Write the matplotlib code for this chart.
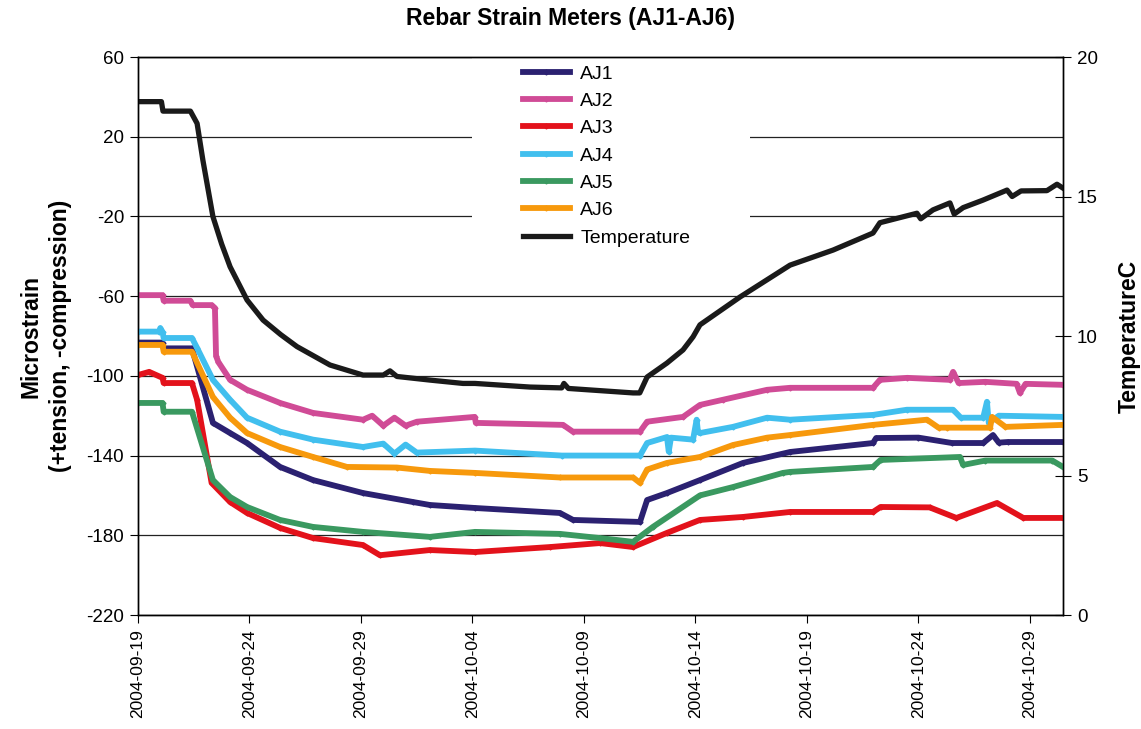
import numpy as np
import pandas as pd
import matplotlib
matplotlib.use("Agg")
import matplotlib.pyplot as plt
import matplotlib.dates as mdates
from matplotlib.patches import Rectangle

plt.rcParams["font.family"] = ["Liberation Sans", "DejaVu Sans"]
plt.rcParams["axes.unicode_minus"] = False

# days after 2004-09-19 00:00
start = pd.Timestamp("2004-09-19")

t_days = [0, 1.05, 1.12, 2.35, 2.65, 2.91, 3.36, 3.75, 4.13, 4.89, 5.61, 6.4, 7.13, 8.61, 10.09, 11.0, 11.3,
          11.61, 13.09, 14.57, 15.11, 17.58, 19.0, 19.1, 19.3, 22.2, 22.5, 22.83, 23.72, 24.44,
          24.89, 25.2, 27.0, 29.24, 31.17, 32.96, 33.27, 34.93, 35.1, 35.65, 36.41, 36.6, 37.0,
          37.89, 38.97, 39.2, 39.6, 40.76, 41.21, 41.48]
temp = [18.4, 18.4, 18.06, 18.06, 17.62, 16.3, 14.28, 13.3, 12.48, 11.29, 10.57, 10.05, 9.62, 8.96, 8.6, 8.6, 8.75,
        8.55, 8.42, 8.3, 8.3, 8.17, 8.14, 8.3, 8.12, 7.96, 7.96, 8.53, 9.03, 9.5,
        9.97, 10.4, 11.4, 12.54, 13.08, 13.69, 14.06, 14.4, 14.2, 14.52, 14.77, 14.37, 14.6,
        14.87, 15.23, 15.0, 15.2, 15.21, 15.44, 15.3]

aj1_days = [0, 1.1, 1.15, 2.42, 3.36, 4.13, 4.89, 6.37, 7.85, 10.09, 12.33, 13.09, 15.11, 18.92,
            19.51, 22.51, 22.83, 23.72, 25.2, 27.13, 29.24, 32.96, 33.1, 35.0, 36.5, 37.9, 38.34,
            38.6, 39.0, 41.48]
aj1 = [-83.3, -83.3, -86.2, -86.2, -123.6, -128.7, -133.7, -145.7, -152.3, -158.8, -163.3, -164.8,
       -166.3, -168.8, -172.3, -173.3, -162.3, -158.8, -152.3, -143.7, -138.2, -133.7, -131.2, -131,
       -133.7, -133.7, -129.7, -133.5, -133.2, -133.2]

aj2_days = [0, 1.1, 1.15, 2.35, 2.45, 3.3, 3.45, 3.5, 3.6, 4.13, 4.89, 6.37, 7.85, 10.09, 10.5,
            11.0, 11.5, 12.0, 12.51, 15.1, 15.15, 19.06, 19.5, 22.51, 22.83,
            24.44, 25.2, 26.23, 28.21, 29.24, 32.96, 33.27, 34.5, 36.4, 36.55, 36.8, 38.0, 39.4,
            39.55, 39.8, 41.48]
aj2 = [-59.5, -59.5, -62.3, -62.3, -64.5, -64.5, -66, -90, -93, -102, -107, -113.6, -118.6, -122,
       -120, -125, -121, -125, -123, -120.6, -123.6, -124.6, -128, -128, -123,
       -120.6, -114.6, -112, -107, -106, -106, -102, -101, -102, -98, -103.6, -103, -104, -108.6,
       -104, -104.5]

aj3_days = [0, 0.5, 1.1, 1.15, 2.42, 2.65, 3.3, 4.13, 4.89, 6.37, 7.85, 10.09, 10.85, 13.09, 15.11,
            18.48, 20.72, 22.2, 23.72, 25.2, 27.13, 29.24, 32.96, 33.3, 35.5, 36.7, 38.52, 39.7,
            41.48]
aj3 = [-99.6, -98, -101, -103.6, -103.6, -112, -153.7, -163.3, -168.8, -176.3, -181.4, -184.9, -190,
       -187.4, -188.4, -185.9, -183.9, -185.9, -178.8, -172.3, -170.8, -168.3, -168.3, -165.8, -166,
       -171.3, -163.8, -171.3, -171.3]

aj4_days = [0, 0.95, 1.0, 1.1, 1.15, 2.42, 2.65, 3.36, 4.13, 4.89, 6.37, 7.85, 10.09, 11.0,
            11.5, 12.0, 12.5, 15.11, 19.0, 22.51, 22.83, 23.72, 23.8, 23.9, 24.89,
            25.05, 25.11, 25.2, 26.68, 28.21, 29.24, 32.96, 34.48, 36.55, 36.9, 37.9, 38.07,
            38.15, 38.6, 41.48]
aj4 = [-77.8, -77.8, -76, -78, -81, -81, -86, -102, -112, -121, -128, -132, -135.7, -134,
       -139, -134.5, -138.5, -137.5, -140, -140, -133.7, -130.7, -138, -131, -132,
       -122, -128, -128.7, -125.6, -121, -122, -119.6, -117, -117, -121, -121, -113,
       -123.6, -120, -120.6]

aj5_days = [0, 1.1, 1.15, 2.42, 3.36, 4.13, 4.89, 6.37, 7.85, 10.09, 13.09, 15.11, 18.92, 20.72,
            22.2, 23.09, 25.2, 26.68, 28.92, 29.24, 32.96, 33.3, 36.86, 37.0, 38.0, 41.0, 41.48]
aj5 = [-113.6, -113.6, -118, -118, -152.3, -160.8, -165.8, -172.3, -175.8, -178.3, -180.8, -178.3,
       -179.3, -181.4, -183.3, -175.8, -160, -155.8, -148.7, -148.2, -145.7, -142.2, -140.7, -144.7,
       -142.5, -142.5, -145.7]

aj6_days = [0, 1.1, 1.15, 2.42, 3.36, 4.13, 4.89, 6.37, 7.85, 9.37, 11.61, 13.09, 15.11, 18.92,
            22.2, 22.51, 22.83, 23.72, 25.2, 26.68, 28.21, 29.24, 32.96, 35.38, 35.9, 36.3, 38.21,
            38.3, 38.9, 41.48]
aj6 = [-84.5, -84.5, -87.9, -87.9, -110.6, -121, -128.7, -135.7, -140.7, -145.7, -146, -147.7,
       -148.7, -151, -151, -153.7, -147, -143.7, -140.7, -134.7, -131, -129.7, -124.6, -122, -126,
       -126, -126, -120.6, -125.6, -124.6]

labels = ["AJ1", "AJ2", "AJ3", "AJ4", "AJ5", "AJ6"]
colors = ["#2b2171", "#d04b96", "#e3121b", "#41bfee", "#3a9960", "#f7990c"]
strain_days = [aj1_days, aj2_days, aj3_days, aj4_days, aj5_days, aj6_days]
strain_vals = [aj1, aj2, aj3, aj4, aj5, aj6]


def to_dates(days):
    return start + pd.to_timedelta(np.array(days), unit="D")


fig = plt.figure(figsize=(11.41, 7.29), dpi=100)
ax = fig.add_axes([138 / 1141, 1 - 615 / 729, (1063 - 138) / 1141, (615 - 57) / 729])
ax2 = ax.twinx()

ax.set_axisbelow(True)
ax.yaxis.grid(True, color="#222222", linewidth=0.9)
# white block behind the legend (gridlines are hidden there)
ax.add_patch(Rectangle((334 / 925, 0.648), (750 - 472) / 925, 0.35, transform=ax.transAxes,
                       facecolor="white", edgecolor="none", zorder=1))

handles = []
for lab, col, d, v in zip(labels, colors, strain_days, strain_vals):
    h, = ax.plot(to_dates(d), v, color=col, linewidth=4.2, marker="D", markersize=2.5,
                 label=lab, zorder=3, solid_joinstyle="round")
    handles.append(h)

ht, = ax2.plot(to_dates(t_days), temp, color="#1a1a1a", linewidth=3.8, label="Temperature",
               solid_joinstyle="round")
handles.append(ht)

ax.set_ylim(-220, 60)
ax.set_yticks(np.arange(-220, 61, 40))
ax2.set_ylim(0, 20)
ax2.set_yticks([0, 5, 10, 15, 20])
ax.set_xlim(start, start + pd.Timedelta(days=41.48))
ax.set_xticks(to_dates(np.arange(0, 41, 5)))
ax.xaxis.set_major_formatter(mdates.DateFormatter("%Y-%m-%d"))

for s in ["top", "right", "left", "bottom"]:
    ax.spines[s].set_linewidth(1.0)
    ax2.spines[s].set_linewidth(1.0)
ax.tick_params(axis="y", direction="out", length=6, labelsize=13.5, pad=4)
ax.tick_params(axis="x", direction="out", length=6, labelsize=12.5, labelrotation=90, pad=4)
ax2.tick_params(axis="y", direction="inout", length=12, labelsize=13.5, pad=4)

ax.set_ylabel("Microstrain\n(+tension, -compression)", fontsize=16.5, fontweight="bold",
              labelpad=10, linespacing=1.4)
ax2.set_ylabel("TemperatureC", fontsize=16.5, fontweight="bold", labelpad=14)
fig.suptitle("Rebar Strain Meters (AJ1-AJ6)", fontsize=16.5, fontweight="bold", y=0.99)

leg = fig.legend(handles=handles, loc="upper left", bbox_to_anchor=(523 / 1141, 1 - 65 / 729),
                 frameon=False, fontsize=14, handlelength=2.4, handletextpad=0.55,
                 labelspacing=0.5, borderpad=0, borderaxespad=0)

fig.savefig("out.png", dpi=100)
